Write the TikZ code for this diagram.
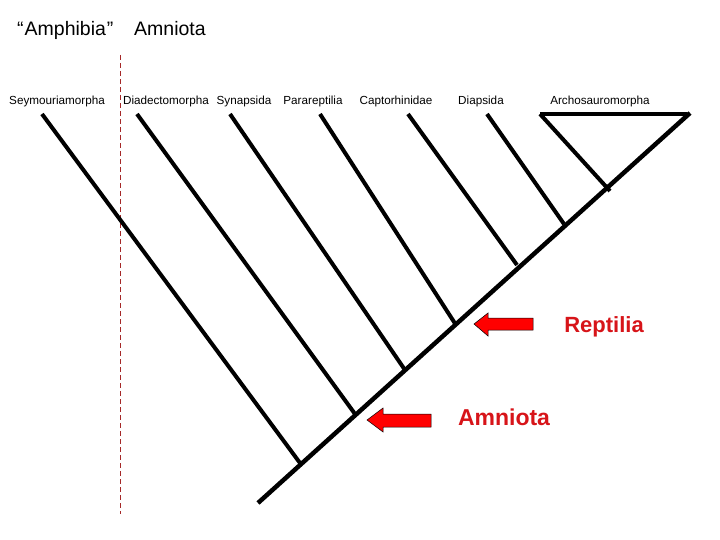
\documentclass[tikz,border=0pt]{standalone}
\usepackage{fontspec}
\setmainfont{Liberation Sans}
\definecolor{dashred}{RGB}{165,40,40}
\definecolor{labred}{RGB}{215,20,25}
\begin{document}
\begin{tikzpicture}[x=1pt,y=-1pt,
  branch/.style={line width=4pt,line cap=butt},
  taxon/.style={anchor=base,inner sep=0pt,font=\fontsize{11.7}{13}\selectfont},
  title/.style={anchor=base west,inner sep=0pt,font=\fontsize{19.5}{22}\selectfont},
  redlab/.style={anchor=base,inner sep=0pt,text=labred,font=\fontsize{22}{25}\selectfont\bfseries},
  redarrow/.style={fill=red,draw=black,line width=0.5pt,line join=miter}]
\useasboundingbox (0,0) rectangle (720,540);
% titles
\node[title] (amph) at (17,36) {“\kern1pt Amphibia\kern1pt”};
\node[title] (amn) at (134,36) {Amniota};
% separator
\coordinate (sepT) at (120,55);
\coordinate (sepB) at (120,514);
\draw[dashred,line width=0.7pt,dash pattern=on 5pt off 3pt] (sepT) -- (sepB);
% taxon labels
\node[taxon] (seym) at (57,105) {Seymouriamorpha};
\node[taxon] (diad) at (166,105) {Diadectomorpha};
\node[taxon] (syn) at (244,105) {Synapsida};
\node[taxon] (para) at (313,105) {Parareptilia};
\node[taxon] (capt) at (396,105) {Captorhinidae};
\node[taxon] (diap) at (481,105) {Diapsida};
\node[taxon] (arch) at (600,105) {Archosauromorpha};
% trunk
\coordinate (base) at (258,503);
\coordinate (top) at (690,113);
\draw[branch,line width=4.5pt] (base) -- (top);
% branch tips
\coordinate (t1) at (42,114);
\coordinate (t2) at (137,114);
\coordinate (t3) at (230,114);
\coordinate (t4) at (320,114);
\coordinate (t5) at (408,114);
\coordinate (t6) at (487,114);
\coordinate (t7) at (540,114);
\coordinate (t8) at (687,114);
% junctions
\coordinate (j1) at (300,463);
\coordinate (j2) at (355,414);
\coordinate (j3) at (405,370);
\coordinate (j4) at (456,325);
\coordinate (j5) at (517,265);
\coordinate (j6) at (564,224);
\coordinate (j7) at (610,191);
\draw[branch] (t1) -- (j1);
\draw[branch] (t2) -- (j2);
\draw[branch] (t3) -- (j3);
\draw[branch] (t4) -- (j4);
\draw[branch] (t5) -- (j5);
\draw[branch] (t6) -- (j6);
\draw[branch] (t7) -- (j7);
\draw[branch,line width=4.5pt] (t7) -- (t8);
% arrows
\draw[redarrow] (474,324) -- (488,313) -- (488,318) -- (533,318) -- (533,330) -- (488,330) -- (488,336) -- cycle;
\draw[redarrow] (367,420) -- (383,408) -- (383,414) -- (431,414) -- (431,427) -- (383,427) -- (383,432) -- cycle;
\node[redlab] (rept) at (604,332) {Reptilia};
\node[redlab] (amnr) at (504,425) {\fontsize{23}{26}\selectfont Amniota};
\end{tikzpicture}
\end{document}
